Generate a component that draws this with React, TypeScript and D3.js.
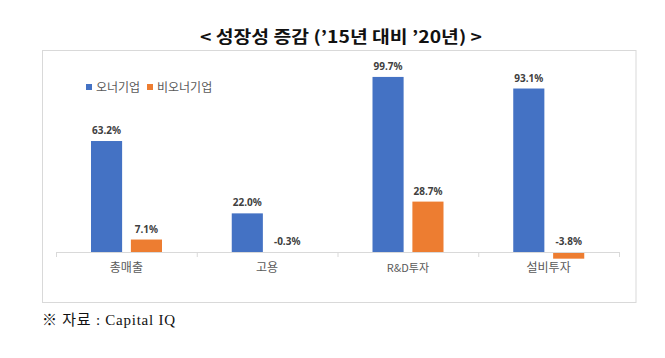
import React from "react";
import * as d3 from "d3";

const categories = ["총매출", "고용", "R&D투자", "설비투자"];
const seriesNames = ["오너기업", "비오너기업"];
const ownerValues = [63.2, 22.0, 99.7, 93.1];
const nonOwnerValues = [7.1, -0.3, 28.7, -3.8];
const colors = ["#4472C4", "#ED7D31"];

const W = 665;
const H = 358;

export default function App() {
  const x = d3.scaleBand<string>().domain(categories).range([56, 619]).paddingInner(0).paddingOuter(0);
  const xs = d3.scaleBand<string>().domain(seriesNames).range([35, 106]).paddingInner(0.22).paddingOuter(0);
  const y = d3.scaleLinear().domain([0, 100]).range([252, 76.4]);
  const series = [ownerValues, nonOwnerValues];
  const y0 = y(0);

  return (
    <svg width={W} height={H} style={{ position: "absolute", left: 0, top: 0, background: "#fff" }}>
      <text x={341} y={43} textAnchor="middle" fontFamily="'Noto Sans CJK KR', sans-serif" fontWeight={700} fontSize={16.5} fill="#111" textLength={282} lengthAdjust="spacingAndGlyphs">
        {"< 성장성 증감 (’15년 대비 ’20년) >"}
      </text>
      <rect x={42.5} y={50.5} width={593.5} height={252} fill="none" stroke="#D9D9D9" strokeWidth={1} />
      {/* legend */}
      {seriesNames.map((s, i) => {
        const lx = [86, 147][i];
        return (
          <g key={s}>
            <rect x={lx} y={84} width={6} height={6} fill={colors[i]} />
            <text x={lx + 10} y={91.5} fontFamily="'Noto Sans CJK KR', sans-serif" fontSize={12} fill="#595959">{s}</text>
          </g>
        );
      })}
      {/* bars */}
      {categories.map((c, ci) => (
        <g key={c}>
          {series.map((vals, si) => {
            const v = vals[ci];
            const bx = (x(c) as number) + (xs(seriesNames[si]) as number);
            const bw = xs.bandwidth();
            const top = Math.min(y(v), y0);
            const h = Math.abs(y(v) - y0);
            return (
              <g key={si}>
                <rect x={bx} y={top} width={bw} height={h} fill={colors[si]} />
                <text x={bx + bw / 2} y={top - 7} textAnchor="middle" fontFamily="'Noto Sans', 'Open Sans', sans-serif" fontWeight={700} fontSize={10} fill="#404040">
                  {v.toFixed(1) + "%"}
                </text>
              </g>
            );
          })}
        </g>
      ))}
      {/* axis */}
      <line x1={56} x2={619} y1={y0 + 0.5} y2={y0 + 0.5} stroke="#D9D9D9" strokeWidth={1} />
      {[0, 1, 2, 3, 4].map((i) => {
        const tx = i < 4 ? (x(categories[i]) as number) : 619;
        return <line key={i} x1={tx + 0.5} x2={tx + 0.5} y1={y0} y2={y0 + 5} stroke="#D9D9D9" strokeWidth={1} />;
      })}
      {categories.map((c) => (
        <text key={c} x={(x(c) as number) + x.bandwidth() / 2} y={272} textAnchor="middle" fontFamily="'Noto Sans CJK KR', sans-serif" fontSize={c === "R&D투자" ? 11 : 12} fill="#595959">
          {c}
        </text>
      ))}
      <text x={42} y={325} fontFamily="'Liberation Serif', 'Noto Sans CJK KR', serif" fontSize={15} fill="#111" textLength={133} lengthAdjust="spacing">
        {"※ 자료 : Capital IQ"}
      </text>
    </svg>
  );
}
